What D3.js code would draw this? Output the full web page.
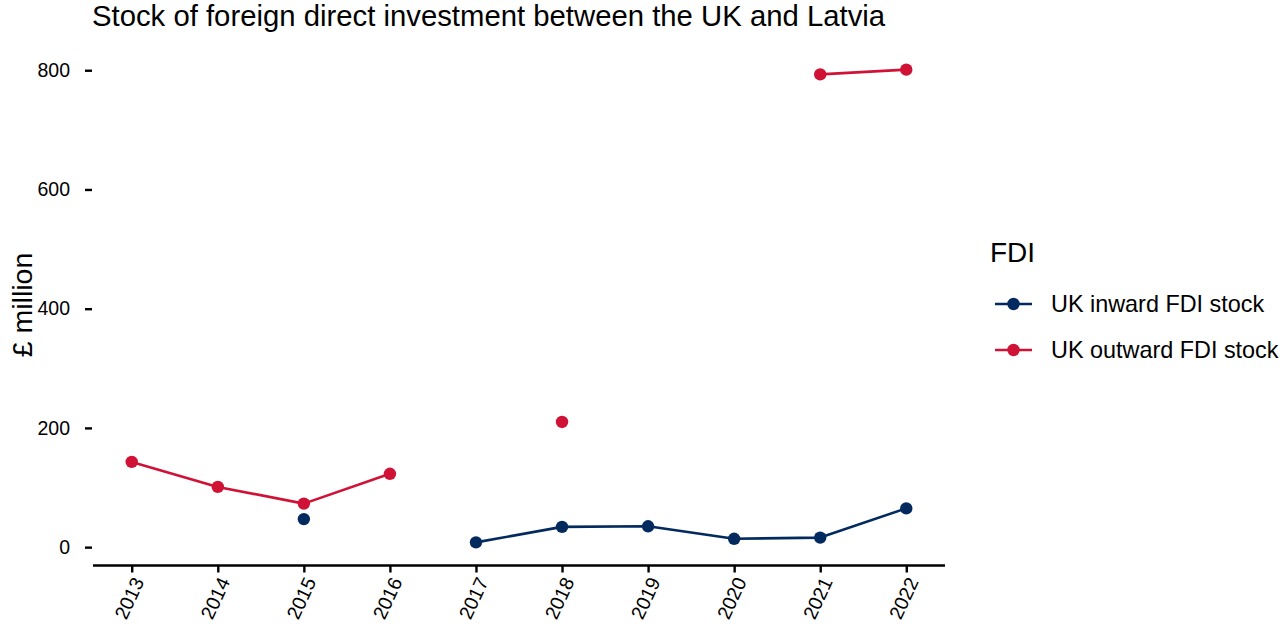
<!DOCTYPE html>
<html>
<head>
<meta charset="utf-8">
<script src="https://cdn.jsdelivr.net/npm/d3@7"></script>
<style>
  html, body { margin: 0; padding: 0; background: #ffffff; }
  svg { display: block; font-family: "Liberation Sans", Arial, sans-serif; }
</style>
</head>
<body>
<svg id="chart" width="1281" height="627"></svg>
<script>
const years = [2013, 2014, 2015, 2016, 2017, 2018, 2019, 2020, 2021, 2022];
const inward = [null, null, 47, null, 8, 34, 35, 14, 16, 65];
const outward = [143, 101, 73, 123, null, 210, null, null, 793, 801];
const yTicks = [0, 200, 400, 600, 800];
const seriesNames = ["UK inward FDI stock", "UK outward FDI stock"];
const seriesColors = ["#022a5e", "#cf1235"];
const title = "Stock of foreign direct investment between the UK and Latvia";
const yTitle = "£ million";
const legendTitle = "FDI";

const svg = d3.select("#chart");

const allVals = inward.concat(outward).filter(v => v != null);
const vMin = d3.min(allVals), vMax = d3.max(allVals);
const vPad = (vMax - vMin) * 0.05;
const y = d3.scaleLinear().domain([vMin - vPad, vMax + vPad]).range([566, 46]);
const yrPad = (d3.max(years) - d3.min(years)) * 0.05;
const x = d3.scaleLinear().domain([d3.min(years) - yrPad, d3.max(years) + yrPad]).range([93, 945]);

// title
svg.append("text").attr("x", 92).attr("y", 26)
  .attr("font-size", 29.3).attr("fill", "#000").text(title);

// y axis title
svg.append("text").attr("transform", "translate(32,305) rotate(-90)")
  .attr("text-anchor", "middle").attr("font-size", 28.5).attr("fill", "#000").text(yTitle);

// y axis (ticks + labels, no domain line)
const yAxis = svg.append("g").attr("transform", "translate(92,0)")
  .call(d3.axisLeft(y).tickValues(yTicks).tickSize(7).tickPadding(15).tickFormat(d3.format("d")));
yAxis.select(".domain").remove();
yAxis.selectAll(".tick line").attr("stroke", "#000").attr("stroke-width", 2.4);
yAxis.selectAll(".tick text").attr("font-size", 19.5).attr("fill", "#000")
  .attr("font-family", "Liberation Sans, Arial, sans-serif");

// x axis
const xAxis = svg.append("g").attr("transform", `translate(0,${y.range()[0] - 0.5})`)
  .call(d3.axisBottom(x).tickValues(years).tickSize(7).tickFormat(d3.format("d")));
xAxis.select(".domain").attr("stroke", "#000").attr("stroke-width", 2.4)
  .attr("d", `M${x.range()[0]},0H${x.range()[1]}`);
xAxis.selectAll(".tick line").attr("stroke", "#000").attr("stroke-width", 2.4);
xAxis.selectAll(".tick text")
  .attr("font-size", 19.5).attr("fill", "#000")
  .attr("font-family", "Liberation Sans, Arial, sans-serif")
  .attr("text-anchor", "end")
  .attr("dy", null)
  .attr("y", 0)
  .attr("transform", "translate(6,13) rotate(-65)")
  .attr("dominant-baseline", "central");

// series
const series = [inward, outward];
const line = d3.line()
  .defined(d => d.v != null)
  .x(d => x(d.year))
  .y(d => y(d.v));

series.forEach((vals, i) => {
  const pts = years.map((yr, j) => ({ year: yr, v: vals[j] }));
  svg.append("path").datum(pts)
    .attr("fill", "none").attr("stroke", seriesColors[i])
    .attr("stroke-width", 2.6).attr("stroke-linejoin", "round")
    .attr("d", line);
  svg.append("g").selectAll("circle")
    .data(pts.filter(d => d.v != null))
    .join("circle")
    .attr("cx", d => x(d.year)).attr("cy", d => y(d.v))
    .attr("r", 6.2).attr("fill", seriesColors[i]);
});

// legend
const lg = svg.append("g");
lg.append("text").attr("x", 990).attr("y", 262).attr("font-size", 28).attr("fill", "#000").text(legendTitle);
seriesNames.forEach((name, i) => {
  const cy = 304 + i * 46;
  lg.append("line").attr("x1", 995).attr("x2", 1032).attr("y1", cy).attr("y2", cy)
    .attr("stroke", seriesColors[i]).attr("stroke-width", 2.6);
  lg.append("circle").attr("cx", 1013.5).attr("cy", cy).attr("r", 6.2).attr("fill", seriesColors[i]);
  lg.append("text").attr("x", 1051).attr("y", cy + 8).attr("font-size", 23.4).attr("fill", "#000").text(name);
});
</script>
</body>
</html>
